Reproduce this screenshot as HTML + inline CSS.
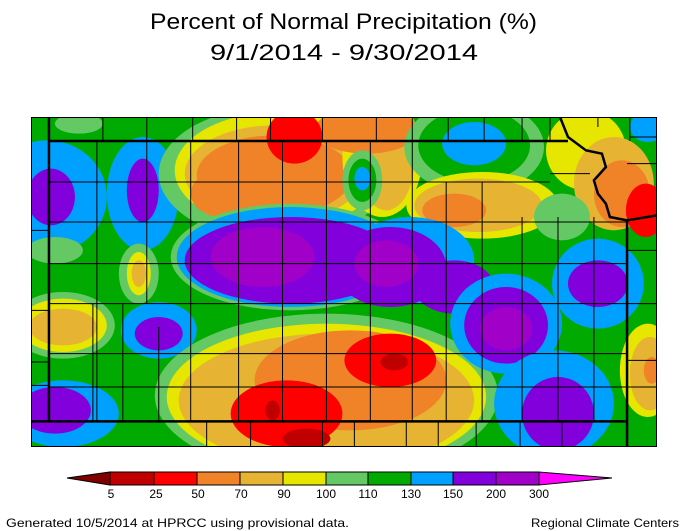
<!DOCTYPE html>
<html><head><meta charset="utf-8"><style>
html,body{margin:0;padding:0;background:#fff;width:688px;height:531px;overflow:hidden}
svg{display:block}
text{font-family:"Liberation Sans",sans-serif;fill:#000}
</style></head><body>
<svg width="688" height="531" xmlns="http://www.w3.org/2000/svg">
<text x="150" y="29" font-size="22" textLength="387" lengthAdjust="spacingAndGlyphs">Percent of Normal Precipitation (%)</text>
<text x="210" y="60" font-size="22" textLength="268" lengthAdjust="spacingAndGlyphs">9/1/2014 - 9/30/2014</text>
<svg x="31" y="117" width="626" height="330" viewBox="0 0 1568 990" preserveAspectRatio="none">
<defs><clipPath id="c"><rect width="1568" height="990"/></clipPath></defs>
<g clip-path="url(#c)">
<rect width="1568" height="990" fill="#00aa00"/>
<!-- left -->
<ellipse cx="40" cy="240" rx="150" ry="170" fill="#00a0ff"/>
<ellipse cx="50" cy="240" rx="60" ry="85" fill="#8200dc"/>
<ellipse cx="120" cy="20" rx="60" ry="30" fill="#64c864"/>
<ellipse cx="280" cy="230" rx="90" ry="170" fill="#00a0ff"/>
<ellipse cx="280" cy="220" rx="40" ry="95" fill="#8200dc"/>
<ellipse cx="60" cy="400" rx="70" ry="40" fill="#64c864"/>
<ellipse cx="270" cy="470" rx="50" ry="90" fill="#64c864"/>
<ellipse cx="270" cy="470" rx="30" ry="65" fill="#e6e600"/>
<ellipse cx="270" cy="470" rx="18" ry="40" fill="#e6b432"/>
<ellipse cx="80" cy="625" rx="130" ry="100" fill="#64c864"/>
<ellipse cx="80" cy="625" rx="110" ry="80" fill="#e6e600"/>
<ellipse cx="80" cy="630" rx="85" ry="55" fill="#e6b432"/>
<ellipse cx="320" cy="640" rx="95" ry="85" fill="#00a0ff"/>
<ellipse cx="320" cy="650" rx="60" ry="50" fill="#8200dc"/>
<ellipse cx="80" cy="890" rx="140" ry="100" fill="#00a0ff"/>
<ellipse cx="60" cy="880" rx="90" ry="70" fill="#8200dc"/>
<!-- top center -->
<ellipse cx="610" cy="170" rx="290" ry="200" fill="#64c864"/>
<ellipse cx="620" cy="160" rx="260" ry="175" fill="#e6e600"/>
<ellipse cx="610" cy="170" rx="225" ry="145" fill="#e6b432"/>
<ellipse cx="610" cy="175" rx="195" ry="120" fill="#f08228"/>
<ellipse cx="480" cy="230" rx="80" ry="70" fill="#f08228"/>
<ellipse cx="880" cy="120" rx="100" ry="180" fill="#e6e600"/>
<ellipse cx="890" cy="130" rx="70" ry="150" fill="#e6b432"/>
<ellipse cx="840" cy="40" rx="130" ry="70" fill="#f08228"/>
<ellipse cx="660" cy="60" rx="70" ry="80" fill="#ff0000"/>
<ellipse cx="830" cy="190" rx="50" ry="90" fill="#64c864"/>
<ellipse cx="830" cy="190" rx="35" ry="65" fill="#00aa00"/>
<ellipse cx="830" cy="185" rx="20" ry="35" fill="#00a0ff"/>
<!-- top right -->
<ellipse cx="1110" cy="90" rx="175" ry="140" fill="#64c864"/>
<ellipse cx="1110" cy="85" rx="140" ry="110" fill="#00aa00"/>
<ellipse cx="1110" cy="80" rx="80" ry="65" fill="#00a0ff"/>
<ellipse cx="1130" cy="265" rx="190" ry="100" fill="#e6e600"/>
<ellipse cx="1120" cy="265" rx="160" ry="80" fill="#e6b432"/>
<ellipse cx="1060" cy="280" rx="80" ry="50" fill="#f08228"/>
<ellipse cx="1390" cy="100" rx="100" ry="120" fill="#e6e600"/>
<ellipse cx="1460" cy="200" rx="100" ry="140" fill="#e6b432"/>
<ellipse cx="1480" cy="230" rx="70" ry="100" fill="#f08228"/>
<ellipse cx="1540" cy="280" rx="50" ry="80" fill="#ff0000"/>
<ellipse cx="1545" cy="30" rx="45" ry="45" fill="#00a0ff"/>
<ellipse cx="1330" cy="300" rx="70" ry="70" fill="#64c864"/>
<!-- central band -->
<ellipse cx="650" cy="420" rx="300" ry="160" fill="#64c864"/>
<ellipse cx="650" cy="420" rx="285" ry="150" fill="#00a0ff"/>
<ellipse cx="950" cy="430" rx="160" ry="130" fill="#00a0ff"/>
<ellipse cx="650" cy="430" rx="265" ry="130" fill="#8200dc"/>
<ellipse cx="900" cy="450" rx="140" ry="120" fill="#8200dc"/>
<ellipse cx="1060" cy="510" rx="100" ry="80" fill="#8200dc"/>
<ellipse cx="580" cy="420" rx="130" ry="90" fill="#a000c8"/>
<ellipse cx="890" cy="440" rx="80" ry="70" fill="#a000c8"/>
<!-- south -->
<ellipse cx="740" cy="835" rx="430" ry="245" fill="#64c864"/>
<ellipse cx="740" cy="840" rx="400" ry="220" fill="#e6e600"/>
<ellipse cx="740" cy="850" rx="370" ry="200" fill="#e6b432"/>
<ellipse cx="800" cy="790" rx="240" ry="150" fill="#f08228"/>
<ellipse cx="900" cy="730" rx="115" ry="80" fill="#ff0000"/>
<ellipse cx="910" cy="735" rx="35" ry="25" fill="#c00000"/>
<ellipse cx="640" cy="890" rx="140" ry="100" fill="#ff0000"/>
<ellipse cx="690" cy="965" rx="60" ry="30" fill="#c00000"/>
<ellipse cx="605" cy="880" rx="18" ry="30" fill="#c00000"/>
<!-- right -->
<ellipse cx="1190" cy="620" rx="140" ry="150" fill="#00a0ff"/>
<ellipse cx="1190" cy="625" rx="105" ry="115" fill="#8200dc"/>
<ellipse cx="1190" cy="635" rx="65" ry="65" fill="#a000c8"/>
<ellipse cx="1310" cy="860" rx="150" ry="160" fill="#00a0ff"/>
<ellipse cx="1320" cy="890" rx="90" ry="110" fill="#8200dc"/>
<ellipse cx="1420" cy="500" rx="115" ry="135" fill="#00a0ff"/>
<ellipse cx="1420" cy="500" rx="75" ry="70" fill="#8200dc"/>
<ellipse cx="1545" cy="760" rx="70" ry="140" fill="#e6e600"/>
<ellipse cx="1550" cy="770" rx="50" ry="110" fill="#e6b432"/>
<ellipse cx="1555" cy="760" rx="20" ry="40" fill="#f08228"/>
<!-- county lines -->
<g stroke="#000" stroke-width="1" fill="none">
<path vector-effect="non-scaling-stroke" d="M165 72V913M290 72V560M400 72V913M520 72V913M630 72V913M740 72V913M850 72V913M955 72V913M1040 195V913M1130 195V913M1230 300V913M1320 300V913M1410 300V913M155 560V913M230 560V913M320 630V913M180 0V72M290 0V72M405 0V72M515 0V72M600 0V72M730 0V72M865 0V72M955 0V72M1045 0V72M1135 0V72M1230 0V72M1300 0V72M1420 0V30M1500 0V72M440 913V990M550 913V990M730 913V990M810 913V990M940 913V990M1020 913V990M1115 913V990M1225 913V990M1330 913V990"/>
<path vector-effect="non-scaling-stroke" d="M45 195H1300M45 315H1493M45 440H1493M45 560H1493M45 710H1493M45 810H1493M0 340H45M0 580H45M0 735H45M0 805H45M1493 400H1568M1493 560H1568M1493 730H1568M1493 810H1568M1493 140H1568M1500 60H1568M1300 170H1400"/>
</g>
<g stroke="#000" stroke-width="2.5" fill="none">
<path vector-effect="non-scaling-stroke" d="M45 0V913M45 72H1345M0 913H1493M1493 310V990"/>
<path vector-effect="non-scaling-stroke" d="M1325 0L1345 60L1390 100L1430 110L1440 150L1410 190L1420 230L1440 260L1450 300L1493 310L1568 295"/>
</g>
</g>
<rect width="1568" height="990" fill="none" stroke="#000" stroke-width="2" vector-effect="non-scaling-stroke"/>
</svg>
<!-- colorbar -->
<g stroke="#000" stroke-width="1">
<polygon points="67,478 110,472 110,485" fill="#800000"/>
<polygon points="612,478 539,472 539,485" fill="#ff00ff"/>
<rect x="110" y="472" width="44" height="13" fill="#c00000"/>
<rect x="154" y="472" width="43" height="13" fill="#ff0000"/>
<rect x="197" y="472" width="43" height="13" fill="#f08228"/>
<rect x="240" y="472" width="43" height="13" fill="#e6b432"/>
<rect x="283" y="472" width="43" height="13" fill="#e6e600"/>
<rect x="326" y="472" width="42" height="13" fill="#64c864"/>
<rect x="368" y="472" width="43" height="13" fill="#00aa00"/>
<rect x="411" y="472" width="42" height="13" fill="#00a0ff"/>
<rect x="453" y="472" width="43" height="13" fill="#8200dc"/>
<rect x="496" y="472" width="43" height="13" fill="#a000c8"/>
</g>
<g font-size="12" text-anchor="middle">
<text x="111" y="498">5</text><text x="156" y="498">25</text><text x="198" y="498">50</text><text x="241" y="498">70</text><text x="284" y="498">90</text><text x="326" y="498">100</text><text x="368" y="498">110</text><text x="411" y="498">130</text><text x="453" y="498">150</text><text x="496" y="498">200</text><text x="539" y="498">300</text>
</g>
<text x="6" y="527" font-size="12" textLength="343" lengthAdjust="spacingAndGlyphs">Generated 10/5/2014 at HPRCC using provisional data.</text>
<text x="531" y="527" font-size="12" textLength="148" lengthAdjust="spacingAndGlyphs">Regional Climate Centers</text>
</svg>
</body></html>
